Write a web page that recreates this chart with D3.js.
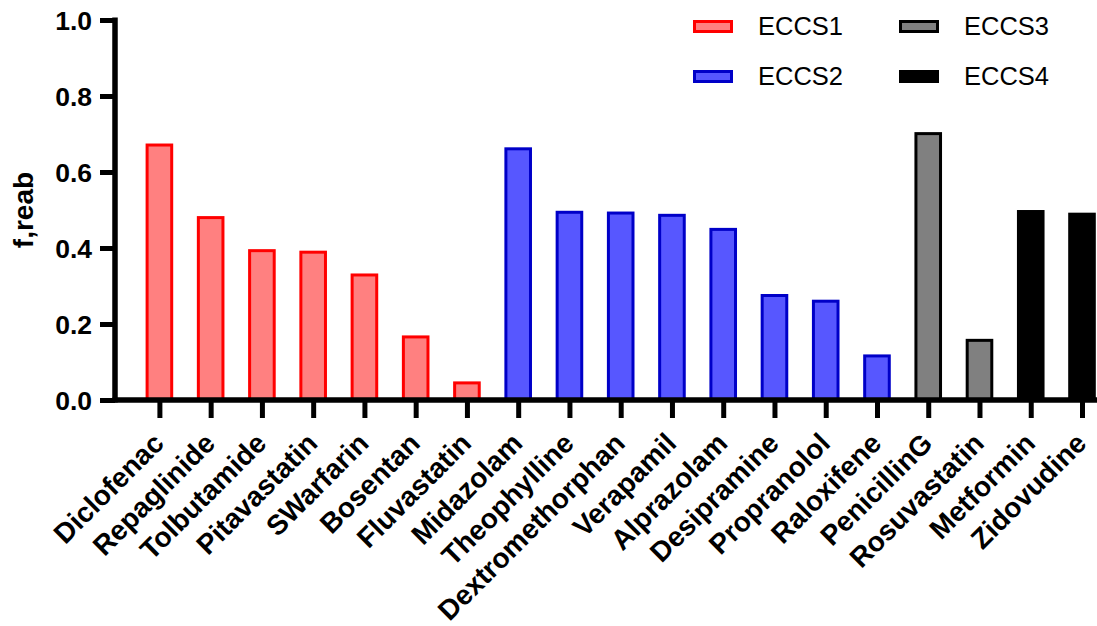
<!DOCTYPE html>
<html>
<head>
<meta charset="utf-8">
<script src="https://cdn.jsdelivr.net/npm/d3@7"></script>
<style>
  body { margin: 0; background: #fff; }
  svg { display: block; font-family: Arial, "Liberation Sans", Helvetica, sans-serif; }
</style>
</head>
<body>
<div id="chart"></div>
<script>
var drugs = ["Diclofenac", "Repaglinide", "Tolbutamide", "Pitavastatin", "SWarfarin",
  "Bosentan", "Fluvastatin", "Midazolam", "Theophylline", "Dextromethorphan",
  "Verapamil", "Alprazolam", "Desipramine", "Propranolol", "Raloxifene",
  "PenicillinG", "Rosuvastatin", "Metformin", "Zidovudine"];
var freab = [0.671, 0.480, 0.393, 0.389, 0.329, 0.166, 0.045, 0.661, 0.494, 0.492,
  0.486, 0.449, 0.275, 0.260, 0.116, 0.701, 0.157, 0.496, 0.489];
var classes = ["ECCS1", "ECCS1", "ECCS1", "ECCS1", "ECCS1", "ECCS1", "ECCS1",
  "ECCS2", "ECCS2", "ECCS2", "ECCS2", "ECCS2", "ECCS2", "ECCS2", "ECCS2",
  "ECCS3", "ECCS3", "ECCS4", "ECCS4"];
var groups = ["ECCS1", "ECCS2", "ECCS3", "ECCS4"];
var yTicks = [0, 0.2, 0.4, 0.6, 0.8, 1.0];

var fillColor = d3.scaleOrdinal().domain(groups)
  .range(["#ff8080", "#5757ff", "#808080", "#000000"]);
var strokeColor = d3.scaleOrdinal().domain(groups)
  .range(["#ff0000", "#0000c8", "#000000", "#000000"]);

var W = 1097, H = 626;
var svg = d3.select("#chart").append("svg")
  .attr("width", W).attr("height", H);

var x = d3.scalePoint().domain(drugs).range([159.4, 1082]);
var barW = x.step() * 0.48;
var y = d3.scaleLinear().domain([0, 1]).range([400, 20]);

// bars
svg.selectAll(".bar").data(drugs)
  .enter().append("rect")
  .attr("class", "bar")
  .attr("x", function(d) {return x(d) - barW / 2;})
  .attr("y", function(d, i) {return y(freab[i]);})
  .attr("width", barW)
  .attr("height", function(d, i) {return y(0) - y(freab[i]);})
  .style("fill", function(d, i) {return fillColor(classes[i]);})
  .style("stroke", function(d, i) {return strokeColor(classes[i]);})
  .style("stroke-width", 3);

// y axis
var yAxis = d3.axisLeft(y).tickValues(yTicks)
  .tickFormat(d3.format(".1f")).tickSize(15).tickPadding(8);
var gy = svg.append("g").attr("class", "axis axis-y")
  .attr("transform", "translate(115,0)")
  .call(yAxis);
gy.select(".domain").attr("d", "M0," + (y(1) - 2.5) + "V" + (y(0) + 2.5))
  .style("stroke", "#000").style("stroke-width", 5.5);
gy.selectAll(".tick line").style("stroke", "#000").style("stroke-width", 5);
gy.selectAll(".tick text")
  .style("font-size", "26.5px").style("font-weight", "bold").style("fill", "#000")
  .attr("dy", "0.36em");

// x axis
var xAxis = d3.axisBottom(x).tickSize(18).tickFormat("");
var gx = svg.append("g").attr("class", "axis axis-x")
  .attr("transform", "translate(0," + y(0) + ")")
  .call(xAxis);
gx.select(".domain").attr("d", "M112.5,0H" + W)
  .style("stroke", "#000").style("stroke-width", 5.5);
gx.selectAll(".tick line").style("stroke", "#000").style("stroke-width", 5);

svg.selectAll(".xlabel").data(drugs)
  .enter().append("text")
  .attr("class", "xlabel")
  .attr("transform", function(d) {
    return "translate(" + (x(d) + 6) + ",445) rotate(-45)";
  })
  .attr("text-anchor", "end")
  .style("font-size", "28px").style("font-weight", "bold")
  .text(function(d) {return d;});

// y title
svg.append("text")
  .attr("transform", "translate(33,210) rotate(-90)")
  .attr("text-anchor", "middle")
  .style("font-size", "28px").style("font-weight", "bold")
  .text("f,reab");

// legend
var legX = [694.5, 900.5], legY = [21.5, 71.5];
var leg = svg.selectAll(".legend").data(groups)
  .enter().append("g")
  .attr("class", "legend")
  .attr("transform", function(d, i) {
    return "translate(" + legX[Math.floor(i / 2)] + "," + legY[i % 2] + ")";
  });
leg.append("rect")
  .attr("width", 37).attr("height", 10)
  .style("fill", function(d) {return fillColor(d);})
  .style("stroke", function(d) {return strokeColor(d);})
  .style("stroke-width", 3);
leg.append("text")
  .attr("x", 63.5).attr("y", 13)
  .style("font-size", "25.5px")
  .text(function(d) {return d;});
</script>
</body>
</html>
